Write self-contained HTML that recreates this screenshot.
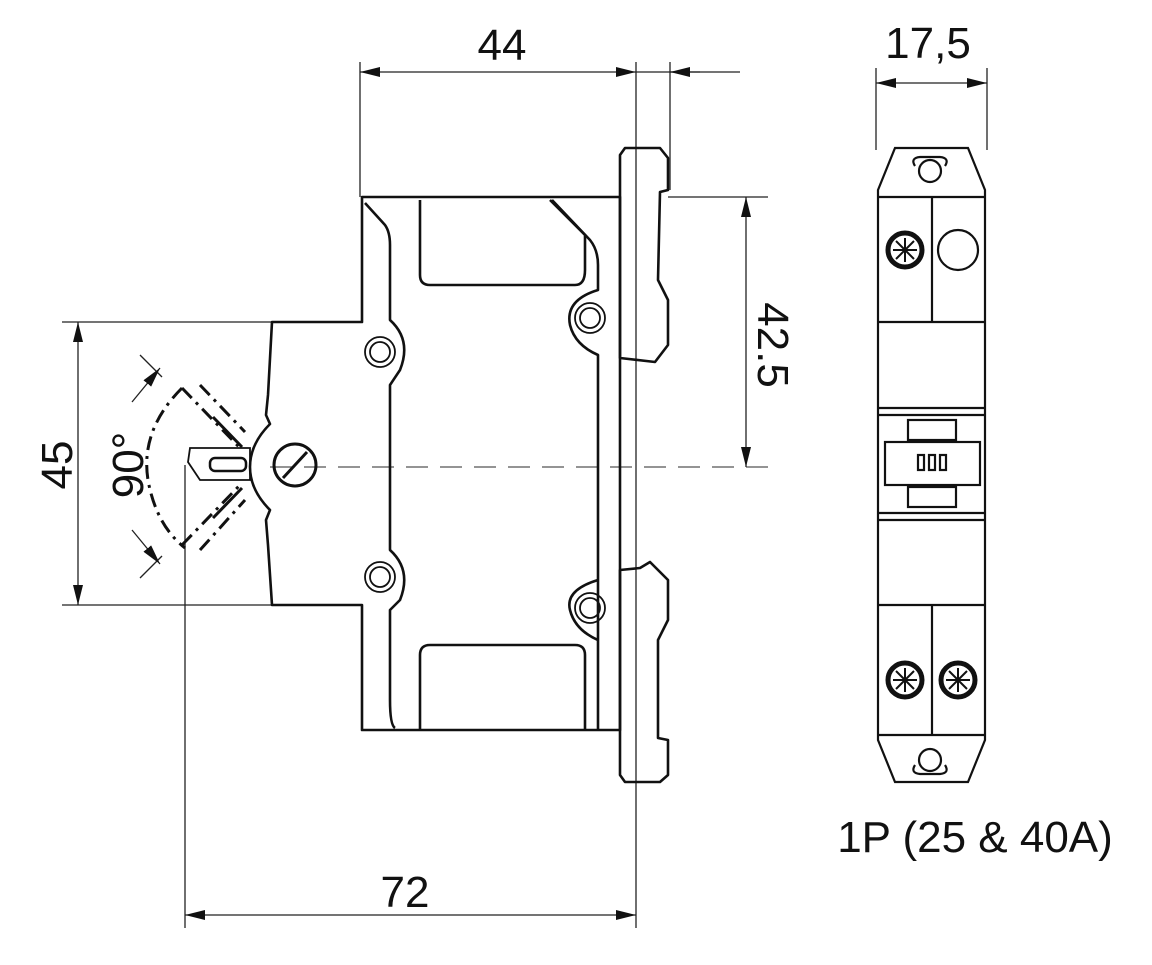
<!DOCTYPE html>
<html><head><style>body{margin:0;background:#fff}svg{display:block}text{font-family:"Liberation Sans",sans-serif;fill:#111}</style></head><body>
<svg width="1152" height="965" viewBox="0 0 1152 965" xmlns="http://www.w3.org/2000/svg">
<defs><marker id="a" viewBox="0 0 20 10" refX="20" refY="5" markerWidth="20" markerHeight="10" orient="auto-start-reverse" markerUnits="userSpaceOnUse"><path d="M0,0 L20,5 L0,10 z" fill="#111"/></marker></defs>
<g stroke="#222" stroke-width="1.3" fill="none">
<line x1="360" y1="62" x2="360" y2="197"/>
<line x1="636" y1="62" x2="636" y2="928"/>
<line x1="670" y1="62" x2="670" y2="190"/>
<line x1="668" y1="197" x2="768" y2="197"/>
<line x1="62" y1="322" x2="272" y2="322"/>
<line x1="62" y1="605" x2="272" y2="605"/>
<line x1="185" y1="465" x2="185" y2="928"/>
<line x1="876" y1="68" x2="876" y2="150"/>
<line x1="987" y1="68" x2="987" y2="150"/>
<line x1="270" y1="467" x2="768" y2="467" stroke-dasharray="22,12" stroke="#555"/>
<line x1="360" y1="72" x2="636" y2="72" marker-start="url(#a)" marker-end="url(#a)"/>
<line x1="636" y1="72" x2="740" y2="72"/>
<line x1="700" y1="72" x2="670" y2="72" marker-end="url(#a)"/>
<line x1="746" y1="197" x2="746" y2="467" marker-start="url(#a)" marker-end="url(#a)"/>
<line x1="78" y1="322" x2="78" y2="605" marker-start="url(#a)" marker-end="url(#a)"/>
<line x1="185" y1="915" x2="636" y2="915" marker-start="url(#a)" marker-end="url(#a)"/>
<line x1="876" y1="83" x2="987" y2="83" marker-start="url(#a)" marker-end="url(#a)"/>
<line x1="140" y1="355" x2="162" y2="377"/><line x1="140" y1="578" x2="162" y2="556"/>
<line x1="132" y1="402" x2="160" y2="368" marker-end="url(#a)"/>
<line x1="132" y1="530" x2="160" y2="564" marker-end="url(#a)"/>
</g>
<g stroke="#111" stroke-width="2.6" fill="none" stroke-linejoin="round">
<path d="M362,197 L620,197 L620,730 L362,730 L362,605 L272,605 L268,545 L266,520 L270,510 Q250,490 250,467 Q250,444 270,424 L266,415 L268,395 L272,322 L362,322 Z"/>
<path d="M365,203 L385,225 Q390,232 390,245 L390,320 Q412,340 400,370 L390,385 L390,550 Q412,570 400,600 L390,610 L390,700 Q390,725 395,728"/>
<path d="M420,200 L420,275 Q420,285 430,285 L575,285 Q585,285 585,270 L585,235 L550,200"/>
<path d="M552,200 L590,240 Q598,250 598,265 L598,290 Q565,300 570,325 Q575,345 598,355 L598,730"/>
<path d="M420,730 L420,655 Q420,645 430,645 L575,645 Q585,645 585,655 L585,730"/>
<path d="M598,580 Q565,590 570,610 Q575,630 598,640"/>
<path d="M620,155 L625,148 L660,148 L668,158 L668,190 L660,192 L658,280 L668,300 L668,345 L655,362 L620,358 Z"/>
<path d="M620,570 L640,568 L650,562 L668,580 L668,620 L658,640 L658,738 L668,740 L668,775 L660,782 L625,782 L620,775 Z"/>
</g>
<g stroke="#111" stroke-width="1.8" fill="none">
<circle cx="380" cy="352" r="15"/><circle cx="380" cy="352" r="10"/>
<circle cx="380" cy="577" r="15"/><circle cx="380" cy="577" r="10"/>
<circle cx="590" cy="318" r="15"/><circle cx="590" cy="318" r="10"/>
<circle cx="590" cy="608" r="15"/><circle cx="590" cy="608" r="10"/>
<circle cx="295" cy="465" r="21" stroke-width="3"/>
<line x1="283" y1="478" x2="307" y2="452" stroke-width="3"/>
<path d="M190,448 L250,448 L250,480 L200,480 L188,462 Z"/>
<rect x="210" y="458" width="36" height="13" rx="5" stroke-width="2.5"/>
</g>
<g stroke="#111" stroke-width="3" fill="none" stroke-dasharray="14,6,3,6">
<path d="M182,388 Q140,430 148,480 Q156,525 185,548"/>
<path d="M182,388 L240,448 M182,545 L240,485"/>
<path d="M200,385 L245,432 M200,550 L245,500"/>
</g>
<g stroke="#111" stroke-width="3"><line x1="213" y1="417" x2="242" y2="447"/><line x1="213" y1="518" x2="242" y2="488"/></g>
<g stroke="#111" stroke-width="2.2" fill="none">
<path d="M878,190 L895,148 L968,148 L985,190 L985,740 L968,782 L895,782 L878,740 Z"/>
<line x1="878" y1="197" x2="985" y2="197"/><line x1="878" y1="322" x2="985" y2="322"/>
<line x1="878" y1="408" x2="985" y2="408"/><line x1="878" y1="520" x2="985" y2="520"/>
<line x1="878" y1="605" x2="985" y2="605"/><line x1="878" y1="735" x2="985" y2="735"/>
<line x1="932" y1="197" x2="932" y2="322"/><line x1="932" y1="605" x2="932" y2="735"/>
<circle cx="930" cy="171" r="11"/><path d="M915,166 Q910,158 920,157 L940,157 Q950,158 945,166"/>
<circle cx="930" cy="760" r="11"/><path d="M915,765 Q910,773 920,774 L940,774 Q950,773 945,765"/>
<circle cx="958" cy="250" r="20"/>
<rect x="885" y="442" width="95" height="43"/>
<rect x="908" y="420" width="48" height="20"/><rect x="908" y="487" width="48" height="20"/>
<rect x="918" y="455" width="6" height="15"/><rect x="929" y="455" width="6" height="15"/><rect x="940" y="455" width="6" height="15"/>
<line x1="878" y1="415" x2="985" y2="415"/><line x1="878" y1="513" x2="985" y2="513"/>
</g>
<g stroke="#111" stroke-width="5" fill="none">
<circle cx="905" cy="250" r="17"/><circle cx="905" cy="680" r="17"/><circle cx="958" cy="680" r="17"/>
</g>
<g stroke="#111" stroke-width="2"><path d="M905,238 V262 M893,250 H917 M896,241 L914,259 M914,241 L896,259"/><path d="M905,668 V692 M893,680 H917 M896,671 L914,689 M914,671 L896,689"/><path d="M958,668 V692 M946,680 H970 M949,671 L967,689 M967,671 L949,689"/></g>
<text x="502" y="60" font-size="44" text-anchor="middle">44</text>
<text x="928" y="58" font-size="44" text-anchor="middle">17,5</text>
<text x="405" y="907" font-size="44" text-anchor="middle">72</text>
<text x="975" y="852" font-size="44" text-anchor="middle">1P (25 &amp; 40A)</text>
<text transform="translate(758,345) rotate(90)" font-size="44" text-anchor="middle">42.5</text>
<text transform="translate(72,465) rotate(-90)" font-size="44" text-anchor="middle">45</text>
<text transform="translate(143,465) rotate(-90)" font-size="44" text-anchor="middle">90°</text>
</svg>
</body></html>
